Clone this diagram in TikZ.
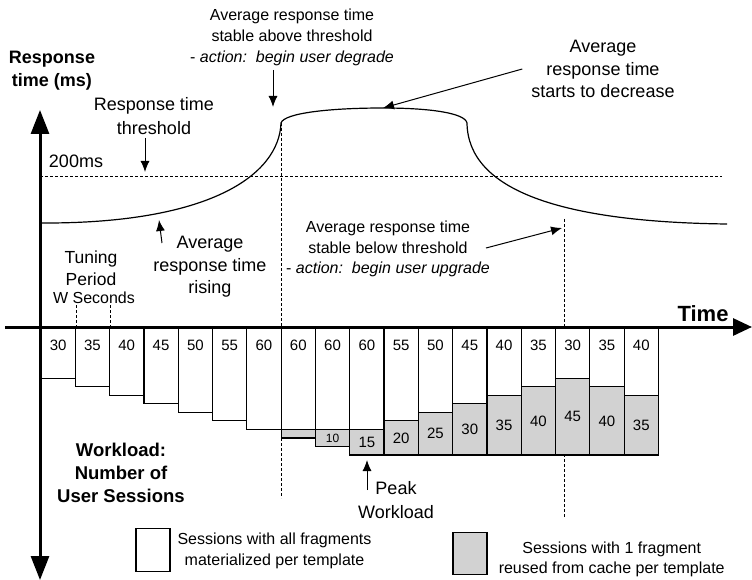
\documentclass[tikz,border=0pt]{standalone}
\usepackage{fontspec}
\setmainfont{Liberation Sans}
\usepackage{xcolor}
\usepackage{tikz}
\usetikzlibrary{arrows.meta,shapes,positioning}

\newcommand{\fs}[2]{\fontsize{#1}{#2}\selectfont}

\begin{document}
\begin{tikzpicture}[x=1pt,y=-1pt,
    txt/.style={align=center,inner sep=0pt},
    axisline/.style={line width=3pt},
    curve/.style={line width=1.2pt},
    note/.style={-{Latex[length=11pt,width=9pt]},line width=1pt},
    guide/.style={dash pattern=on 3pt off 2pt,line width=0.9pt},
    wbar/.style={draw,line width=1.2pt,fill=white},
    gbar/.style={draw,line width=1.2pt,fill=gray!35}]
  \useasboundingbox (0,0) rectangle (752,580);

  % guides
  \draw[guide] (40,176.7) -- (722,176.7);
  \draw[guide] (281.7,123) -- (281.7,498);
  \draw[guide] (564,219) -- (564,517);
  \draw[guide] (76.3,305) -- (76.3,327);
  \draw[guide] (110.3,305) -- (110.3,327);

  % response time curve
  \draw[curve] (40,223) .. controls (210,224) and (279,175) .. (281,123)
    .. controls (284,113) and (330,108) .. (383,108)
    .. controls (430,108) and (465,113) .. (467,123)
    .. controls (468,190) and (560,222) .. (727,224);

  % workload bars
  \foreach \w/\g [count=\i from 0] in {30/0,35/0,40/0,45/0,50/0,55/0,60/0,60/5,60/10,
      60/15,55/20,50/25,45/30,40/35,35/40,30/45,35/40,40/35}{
    \pgfmathsetmacro{\xl}{41+34.3*\i}
    \pgfmathsetmacro{\xr}{\xl+34.3}
    \pgfmathsetmacro{\yw}{327+1.707*\w}
    \pgfmathsetmacro{\yg}{327+1.707*(\w+\g)}
    \pgfmathsetmacro{\gs}{\g==10 ? 12 : 15}
    \ifnum\g>0 \draw[gbar] (\xl,\yw) rectangle (\xr,\yg); \fi
    \draw[wbar] (\xl,327) rectangle (\xr,\yw);
    \node[txt,font=\fs{15}{18}] (n\i) at (\xl+17.15,345) {\w};
    \ifnum\g>9 \node[txt,font=\fs{\gs}{18}] (m\i) at (\xl+17.15,{(\yw+\yg)/2}) {\g}; \fi
  }

  % axes
  \draw[axisline,{Triangle[length=24pt,width=18pt]}-{Triangle[length=24pt,width=18pt]}]
    (40,580) -- (40,110);
  \draw[axisline,-{Triangle[length=19pt,width=17pt]}] (5,327) -- (752,327);
  \node[txt,font=\bfseries\fs{18}{23}] (ylbl) at (52,71) {Response\\time (ms)};
  \node[txt,font=\bfseries\fs{22}{26}] (xlbl) at (703,314) {Time};
  \node[txt,font=\bfseries\fs{18.5}{23.3}] (wlbl) at (121,473) {Workload:\\Number of\\User Sessions};

  % annotations
  \node[txt,font=\fs{16}{21}] (degnote) at (292,37)
    {Average response time\\stable above threshold\\- \textit{action:\ \ begin user degrade}};
  \node[txt,font=\fs{18}{24}] (thrnote) at (154,116) {Response time\\threshold};
  \node[txt,font=\fs{18}{20}] (lim) at (76,161) {200ms};
  \node[txt,font=\fs{18}{22.5}] (decnote) at (603,69) {Average\\response time\\starts to decrease};
  \node[txt,font=\fs{18}{22.5}] (risenote) at (210,267) {Average\\response time\\rising};
  \node[txt,font=\fs{17.5}{21.6}] (tune) at (91,268) {Tuning\\Period};
  \node[txt,font=\fs{16}{18}] (wsec) at (94,298) {W Seconds};
  \node[txt,font=\fs{16}{20.5}] (upnote) at (388,249)
    {Average response time\\stable below threshold\\- \textit{action:\ \ begin user upgrade}};
  \node[txt,font=\fs{18}{23.3}] (peak) at (396,500) {Peak\\Workload};

  \coordinate (degbase) at (273,70);   \coordinate (degtip) at (273,107);
  \coordinate (thrbase) at (145,138);  \coordinate (thrtip) at (145,172);
  \coordinate (dectip) at (383,108);
  \coordinate (risebase) at (162,243); \coordinate (risetip) at (159,220);
  \coordinate (uptip) at (562,228);
  \coordinate (peakbase) at (367,490); \coordinate (peaktip) at (367,460);
  \draw[note] (degbase) -- (degtip);
  \draw[note] (thrbase) -- (thrtip);
  \draw[note] ([xshift=-9pt]decnote.west) -- (dectip);
  \draw[note] (risebase) -- (risetip);
  \draw[note] ([xshift=-4pt,yshift=1pt]upnote.east) -- (uptip);
  \draw[note] (peakbase) -- (peaktip);

  % legend
  \node[draw,line width=1.1pt,fill=white,minimum width=34pt,minimum height=43pt,inner sep=0pt]
    (legw) at (153,550.4) {};
  \node[txt,font=\fs{16}{20.7}] (legwtxt) at (274.5,551) {Sessions with all fragments\\materialized per template};
  \node[draw,line width=1.1pt,fill=gray!35,minimum width=34pt,minimum height=42pt,inner sep=0pt]
    (legg) at (470,553.9) {};
  \node[txt,font=\fs{16}{20}] (leggtxt) at (611.7,559) {Sessions with 1 fragment\\reused from cache per template};
\end{tikzpicture}
\end{document}
